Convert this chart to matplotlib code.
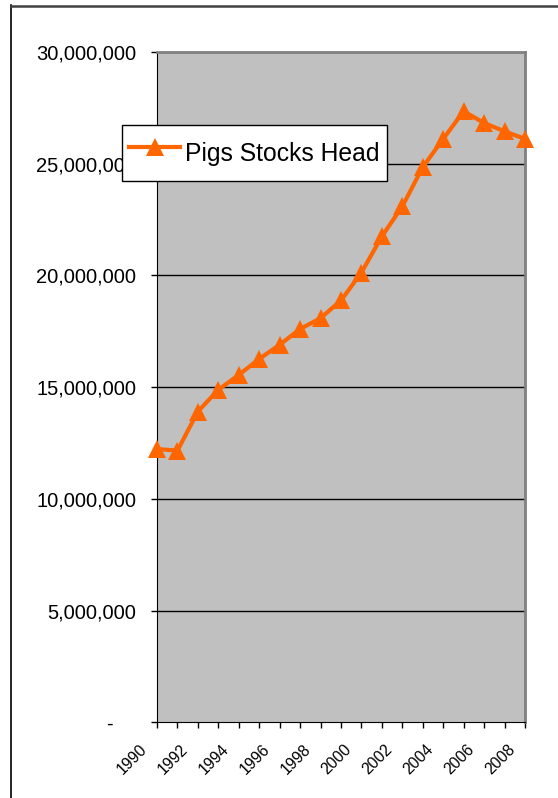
#Imports
import matplotlib
matplotlib.use("Agg")
import matplotlib.pyplot as plt
import matplotlib.transforms as mtransforms
from matplotlib.lines import Line2D
import numpy as np

#Data
years = list(range(1990, 2009))
pigs = [12230000, 12160000, 13910000, 14880000, 15550000, 16260000, 16900000,
        17600000, 18090000, 18880000, 20130000, 21750000, 23090000, 24850000,
        26110000, 27350000, 26820000, 26450000, 26110000]
y_ticks = [0, 5000000, 10000000, 15000000, 20000000, 25000000, 30000000]
y_labels = ["-    ", "5,000,000", "10,000,000", "15,000,000", "20,000,000",
            "25,000,000", "30,000,000"]
series_name = "Pigs Stocks Head"

plt.rcParams["font.family"] = ["Liberation Sans", "DejaVu Sans"]
orange = "#FF6600"

fig = plt.figure(figsize=(5.58, 7.98), dpi=100, facecolor="white")
ax = fig.add_axes([157 / 558, 1 - 722.3 / 798, 368 / 558, 670.3 / 798])
ax.set_facecolor("#C0C0C0")

#Line with triangle markers, points on the tick marks
x = np.arange(len(years))
ax.plot(x, pigs, color=orange, lw=3, marker="^", markersize=13,
        markeredgewidth=0, label=series_name, zorder=3, clip_on=False)

ax.set_xlim(0, len(years) - 1)
ax.set_ylim(0, 30000000)

#Gridlines
for t in y_ticks[1:-1]:
    ax.axhline(t, color="black", lw=1, zorder=1)

ax.set_yticks(y_ticks)
ax.set_yticklabels(y_labels, fontsize=14.5)
ax.set_xticks(x)
ax.set_xticklabels([str(yr) if (yr - 1990) % 2 == 0 else "" for yr in years],
                   fontsize=11.3, rotation=45, ha="right", rotation_mode="anchor")
ax.tick_params(axis="y", length=4.3, width=1, pad=10.8, colors="black")
ax.tick_params(axis="x", length=4.3, width=1, pad=9.7, direction="out")

#Shift the year labels left like the original
shift = mtransforms.ScaledTranslation(-17.5 / 100, 0, fig.dpi_scale_trans)
for lab in ax.get_xticklabels():
    lab.set_transform(lab.get_transform() + shift)

ax.spines["left"].set_color("black")
ax.spines["bottom"].set_color("black")
ax.spines["top"].set_color("#808080")
ax.spines["right"].set_color("#808080")
ax.spines["top"].set_linewidth(2)
ax.spines["right"].set_linewidth(2)

#Legend box
leg = fig.legend(loc="upper left", bbox_to_anchor=(122 / 558, 1 - 125 / 798),
                 fontsize=17.8, frameon=True, fancybox=False, borderpad=0.3,
                 handlelength=2.05, handletextpad=0.2, handleheight=2.2,
                 borderaxespad=0)
leg.get_frame().set_edgecolor("black")
leg.get_frame().set_linewidth(1)
leg.get_frame().set_alpha(1)

#Outer border of the chart area
fig.add_artist(Line2D([11 / 558, 11 / 558], [0, 1 - 5 / 798], color="black",
                      lw=1.2, transform=fig.transFigure))
fig.add_artist(Line2D([11 / 558, 1], [1 - 5.5 / 798, 1 - 5.5 / 798],
                      color="#404040", lw=1.8, transform=fig.transFigure))

fig.savefig("out.png", dpi=100)
